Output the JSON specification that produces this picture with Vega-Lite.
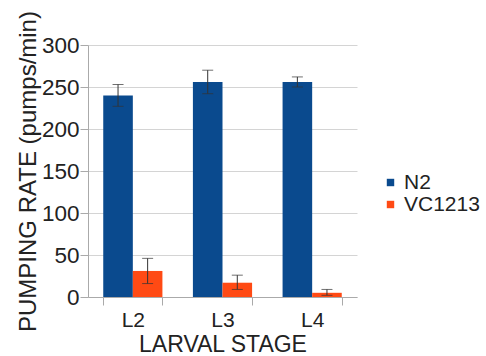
{
  "$schema": "https://vega.github.io/schema/vega-lite/v6.json",
  "width": 269,
  "height": 252,
  "autosize": "none",
  "padding": {"left": 88, "top": 45, "right": 129, "bottom": 59},
  "background": "white",
  "config": {
    "font": "Liberation Sans",
    "view": {"stroke": null},
    "axis": {"labelColor": "#222", "titleColor": "#222", "labelFontSize": 21, "titleFontSize": 23, "titleFontWeight": "normal", "domainColor": "#aaa", "tickColor": "#aaa", "gridColor": "#d4d4d4"}
  },
  "data": {
    "values": [
      {"stage": "L2", "strain": "N2", "rate": 240, "lo": 227, "hi": 253},
      {"stage": "L2", "strain": "VC1213", "rate": 31, "lo": 16, "hi": 46},
      {"stage": "L3", "strain": "N2", "rate": 256, "lo": 242, "hi": 270},
      {"stage": "L3", "strain": "VC1213", "rate": 17, "lo": 9, "hi": 26},
      {"stage": "L4", "strain": "N2", "rate": 256, "lo": 250, "hi": 262},
      {"stage": "L4", "strain": "VC1213", "rate": 5, "lo": 2, "hi": 9}
    ]
  },
  "encoding": {
    "x": {"field": "stage", "type": "nominal", "scale": {"paddingInner": 0.34, "paddingOuter": 0.17},
      "axis": {"title": "LARVAL STAGE", "labelAngle": 0, "labelPadding": 4, "titleY": 36, "titleBaseline": "top", "tickBand": "extent", "tickSize": 8, "grid": false}},
    "xOffset": {"field": "strain", "type": "nominal", "scale": {"paddingInner": 0, "paddingOuter": 0}}
  },
  "layer": [
    {
      "mark": {"type": "bar"},
      "encoding": {
        "y": {"field": "rate", "type": "quantitative", "scale": {"domain": [0, 300]},
          "axis": {"title": "PUMPING RATE (pumps/min)", "titleFontSize": 24, "labelFontSize": 22.5, "values": [0, 50, 100, 150, 200, 250, 300], "tickSize": 8, "labelPadding": 1, "titleX": -53, "titleBaseline": "alphabetic"}},
        "color": {"field": "strain", "type": "nominal",
          "scale": {"domain": ["N2", "VC1213"], "range": ["#0a4a8e", "#ff4a14"]},
          "legend": {"title": null, "orient": "none", "legendX": 292, "legendY": 127, "labelFontSize": 21, "labelColor": "#222", "symbolType": "square", "symbolSize": 55, "symbolStrokeWidth": 0, "rowPadding": 0, "labelOffset": 3}}
      }
    },
    {
      "mark": {"type": "rule", "color": "#333", "strokeWidth": 1},
      "encoding": {"y": {"field": "lo", "type": "quantitative"}, "y2": {"field": "hi"}}
    },
    {
      "mark": {"type": "tick", "color": "#333", "thickness": 1, "size": 11},
      "encoding": {"y": {"field": "lo", "type": "quantitative"}}
    },
    {
      "mark": {"type": "tick", "color": "#333", "thickness": 1, "size": 11},
      "encoding": {"y": {"field": "hi", "type": "quantitative"}}
    }
  ]
}
